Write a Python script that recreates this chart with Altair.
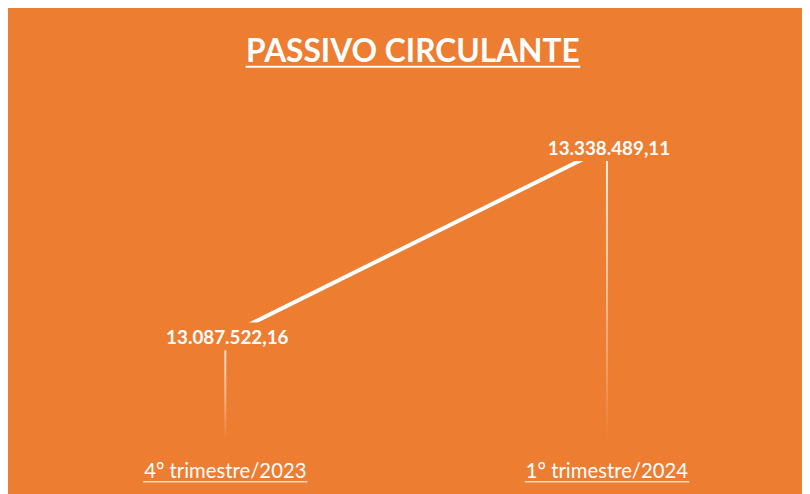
import altair as alt
import pandas as pd

# ---- data ----
periodos = ["4° trimestre/2023", "1° trimestre/2024"]
valores = [13087522.16, 13338489.11]
titulo = "PASSIVO CIRCULANTE"

Y_MIN, Y_MAX = 12950000, 13520000

ORANGE = "#ED7D31"
WHITE = "#FFFFFF"
FONT = "Lato"


def fmt_br(v):
    s = f"{v:,.2f}"
    return s.replace(",", "X").replace(".", ",").replace("X", ".")


df = pd.DataFrame({
    "periodo": periodos,
    "valor": valores,
    "rotulo": [fmt_br(v) for v in valores],
})

x_enc = alt.X("periodo:N", sort=periodos, axis=None,
              scale=alt.Scale(type="point", range=[219.5, 605], padding=0))
y_scale = alt.Scale(domain=[Y_MIN, Y_MAX], range=[434, 0], zero=False, nice=False)
y_enc = alt.Y("valor:Q", axis=None, scale=y_scale)

base = alt.Chart(df).encode(x=x_enc)

grad = alt.Gradient(
    gradient="linear",
    stops=[alt.GradientStop(color="#FFF3EA", offset=0),
           alt.GradientStop(color="#F6BE96", offset=0.5),
           alt.GradientStop(color=ORANGE, offset=1)],
    x1=0, x2=0, y1=0, y2=1,
)

drop = base.mark_bar(size=2, color=grad).encode(
    y=y_enc, y2=alt.datum(Y_MIN)
)

line = base.mark_line(color=WHITE, strokeWidth=4, strokeCap="butt").encode(y=y_enc)

box_path = "M-1,-0.212L1,-0.212L1,0.212L-1,0.212Z"
box = base.mark_point(shape=box_path, size=17424, filled=True, fill=ORANGE,
                      opacity=1, strokeWidth=0).encode(y=y_enc)

labels = base.mark_text(color=WHITE, font=FONT, fontSize=19, fontWeight="bold",
                        baseline="middle", dx=2, dy=2).encode(
    y=y_enc, text="rotulo:N"
)

xlabels = base.mark_text(color=WHITE, font=FONT, fontSize=20.5, baseline="alphabetic").encode(
    y=alt.value(472), text="periodo:N"
)
xunder = base.mark_tick(color=WHITE, orient="horizontal", size=166, thickness=1.5).encode(
    y=alt.value(476)
)

tdf = pd.DataFrame({"t": [titulo]})
title_txt = alt.Chart(tdf).mark_text(color=WHITE, font=FONT, fontSize=32, fontWeight="bold",
                                     baseline="alphabetic").encode(
    x=alt.value(409), y=alt.value(52), text="t:N"
)
title_line = alt.Chart(tdf).mark_rule(color=WHITE, strokeWidth=2).encode(
    x=alt.value(240), x2=alt.value(578), y=alt.value(57)
)

chart = alt.layer(drop, line, box, labels, xlabels, xunder, title_txt, title_line).properties(
    width=802, height=486, background=ORANGE, padding=0,
    autosize=alt.AutoSizeParams(type="none")
).configure_view(stroke=None, fill=ORANGE)

chart.save("out.html", embed_options={"renderer": "svg", "actions": False})
